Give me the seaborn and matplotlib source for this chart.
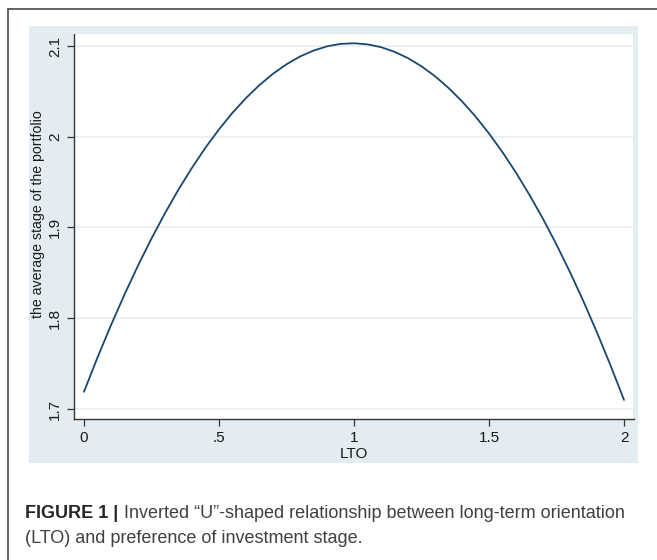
import matplotlib
matplotlib.use("Agg")
import matplotlib.pyplot as plt
import seaborn as sns
import pandas as pd
from matplotlib.patches import Rectangle
from matplotlib.lines import Line2D

# ---- data ----
lto = [0.00, 0.05, 0.10, 0.15, 0.20, 0.25, 0.30, 0.35, 0.40, 0.45,
       0.50, 0.55, 0.60, 0.65, 0.70, 0.75, 0.80, 0.85, 0.90, 0.95,
       1.00, 1.05, 1.10, 1.15, 1.20, 1.25, 1.30, 1.35, 1.40, 1.45,
       1.50, 1.55, 1.60, 1.65, 1.70, 1.75, 1.80, 1.85, 1.90, 1.95, 2.00]
avg_stage = [1.7190, 1.7567, 1.7924, 1.8261, 1.8580, 1.8878, 1.9158, 1.9418, 1.9658, 1.9880,
             2.0081, 2.0264, 2.0426, 2.0570, 2.0694, 2.0798, 2.0884, 2.0949, 2.0996, 2.1023,
             2.1030, 2.1018, 2.0987, 2.0936, 2.0866, 2.0776, 2.0667, 2.0538, 2.0390, 2.0223,
             2.0036, 1.9830, 1.9604, 1.9359, 1.9095, 1.8811, 1.8508, 1.8185, 1.7843, 1.7481, 1.7100]
x_ticks = [0, 0.5, 1, 1.5, 2]
x_tick_labels = ["0", ".5", "1", "1.5", "2"]
y_ticks = [1.7, 1.8, 1.9, 2.0, 2.1]
y_tick_labels = ["1.7", "1.8", "1.9", "2", "2.1"]
x_label = "LTO"
y_label = "the average stage of the portfolio"
caption_bold = "FIGURE 1 |"
caption_line1 = "Inverted \u201cU\u201d-shaped relationship between long-term orientation"
caption_line2 = "(LTO) and preference of investment stage."

df = pd.DataFrame({"LTO": lto, "stage": avg_stage})

sns.set_theme(style="white")
plt.rcParams["font.family"] = ["Liberation Sans", "DejaVu Sans"]

W, H = 657, 560
fig = plt.figure(figsize=(W / 100, H / 100), dpi=100)
fig.patch.set_facecolor("white")

# Stata graph region background
fig.add_artist(Rectangle((29 / W, 1 - 463 / H), 609 / W, 437 / H,
                         transform=fig.transFigure, facecolor="#E3ECF0",
                         edgecolor="none", zorder=0))
# outer frame (open to right/bottom edges)
fig.add_artist(Line2D([8 / W, 1.0], [1 - 9 / H, 1 - 9 / H], transform=fig.transFigure,
                      color="#4a4a4a", lw=1.2))
fig.add_artist(Line2D([8 / W, 8 / W], [1 - 9 / H, 0.0], transform=fig.transFigure,
                      color="#4a4a4a", lw=1.2))

ax = fig.add_axes([74 / W, 1 - 419 / H, 560 / W, 386 / H])
ax.set_facecolor("white")

sns.lineplot(data=df, x="LTO", y="stage", ax=ax, color="#1A476F", linewidth=1.3)

ax.set_xlim(-0.037, 2.037)
ax.set_ylim(1.689, 2.1143)
ax.set_xticks(x_ticks)
ax.set_xticklabels(x_tick_labels)
ax.set_yticks(y_ticks)
ax.set_yticklabels(y_tick_labels, rotation=90, va="center")

ax.grid(axis="y", color="#E6EEF2", linewidth=1.2)
ax.grid(axis="x", visible=False)
ax.set_axisbelow(True)

for side in ["top", "right"]:
    ax.spines[side].set_color("#E3ECF0")
    ax.spines[side].set_linewidth(1.5)
for side in ["left", "bottom"]:
    ax.spines[side].set_color("#333333")
    ax.spines[side].set_linewidth(1.0)

ax.tick_params(axis="both", which="major", length=5, width=0.9, color="#333333",
               labelsize=11, labelcolor="#1a1a1a", left=True, bottom=True)
ax.tick_params(axis="x", pad=3.5)
ax.tick_params(axis="y", pad=3.5)

ax.set_xlabel(x_label, fontsize=11, color="#1a1a1a")
ax.set_ylabel(y_label, fontsize=10.2, color="#1a1a1a")
ax.xaxis.set_label_coords(0.5, (419 - 454) / 386)
ax.xaxis.label.set_va("center")
ax.yaxis.set_label_coords((38 - 74) / 560, (419 - 214) / 386)
ax.yaxis.label.set_va("center")

# caption
y1 = 1 - 518 / H
y2 = 1 - 543 / H
tb = fig.text(25 / W, y1, caption_bold, fontsize=13, fontweight="bold",
              color="#262626", va="baseline", ha="left")
renderer = fig.canvas.get_renderer()
bb = tb.get_window_extent(renderer=renderer)
fig.text(bb.x1 / W + 6 / W, y1, caption_line1, fontsize=13, color="#404040",
         va="baseline", ha="left")
fig.text(25 / W, y2, caption_line2, fontsize=13, color="#404040",
         va="baseline", ha="left")

fig.savefig("out.png", dpi=100, facecolor="white")
